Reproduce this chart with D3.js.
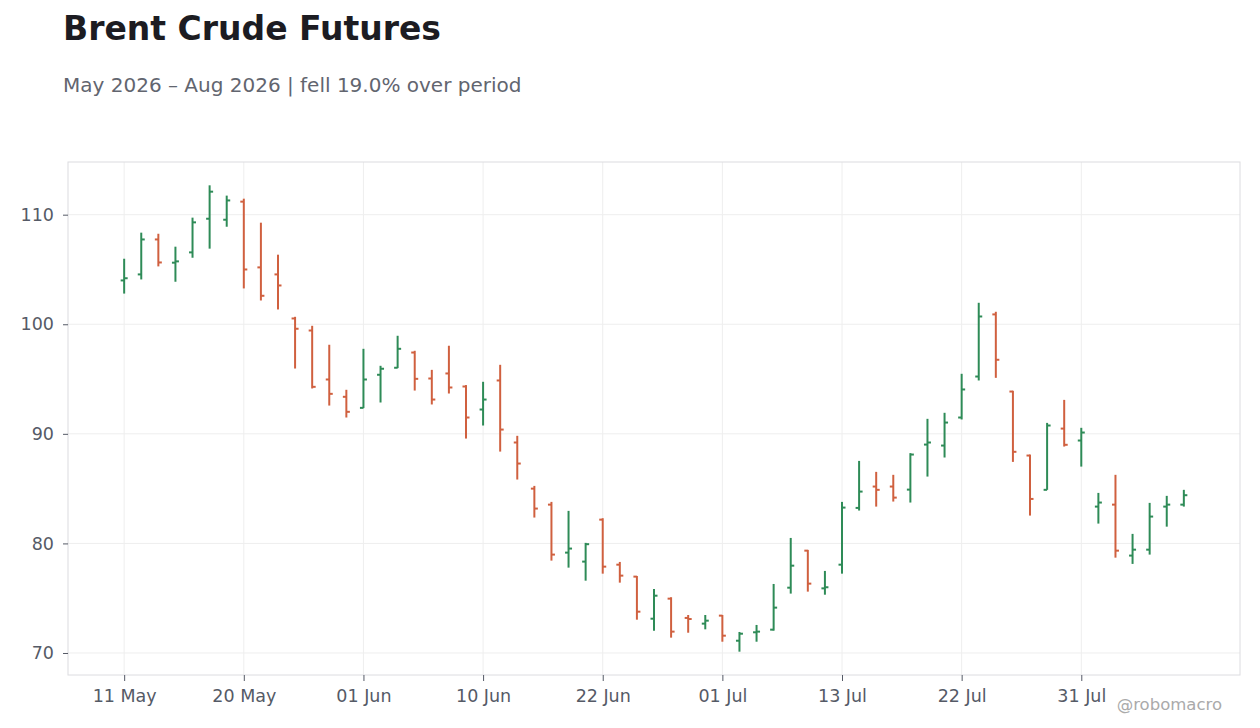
<!DOCTYPE html>
<html>
<head>
<meta charset="utf-8">
<script src="https://cdn.jsdelivr.net/npm/d3@7"></script>
<style>
  body { margin: 0; background: #fff; }
  svg { display: block; font-family: "DejaVu Sans", sans-serif; }
</style>
</head>
<body>
<svg id="chart" width="1260" height="728"></svg>
<script>
// trading days (US holidays 25 May, 19 Jun, 03 Jul skipped)
var dates = [
  "2026-05-11","2026-05-12","2026-05-13","2026-05-14","2026-05-15",
  "2026-05-18","2026-05-19","2026-05-20","2026-05-21","2026-05-22",
  "2026-05-26","2026-05-27","2026-05-28","2026-05-29",
  "2026-06-01","2026-06-02","2026-06-03","2026-06-04","2026-06-05",
  "2026-06-08","2026-06-09","2026-06-10","2026-06-11","2026-06-12",
  "2026-06-15","2026-06-16","2026-06-17","2026-06-18",
  "2026-06-22","2026-06-23","2026-06-24","2026-06-25","2026-06-26",
  "2026-06-29","2026-06-30","2026-07-01","2026-07-02",
  "2026-07-06","2026-07-07","2026-07-08","2026-07-09","2026-07-10",
  "2026-07-13","2026-07-14","2026-07-15","2026-07-16","2026-07-17",
  "2026-07-20","2026-07-21","2026-07-22","2026-07-23","2026-07-24",
  "2026-07-27","2026-07-28","2026-07-29","2026-07-30","2026-07-31",
  "2026-08-03","2026-08-04","2026-08-05","2026-08-06","2026-08-07",
  "2026-08-10"
]

var open = [
  104.0, 104.55, 107.74, 105.62, 106.56, 109.63, 109.54, 111.19, 105.19, 104.55,
  100.53, 99.43, 94.96, 93.38, 92.37, 95.39, 96.03, 97.42, 95.05, 95.51,
  94.32, 92.22, 94.87, 89.21, 85.0, 83.54, 79.16, 78.34, 82.17, 78.06,
  76.97, 73.13, 74.96, 73.2, 72.68, 73.41, 71.12, 71.89, 72.13, 75.96,
  79.34, 75.9, 78.06, 83.24, 85.19, 85.19, 84.91, 89.02, 88.93, 91.49,
  95.23, 100.9, 93.86, 88.02, 84.89, 90.48, 89.39, 83.36, 83.54, 78.89,
  79.43, 83.36, 83.54
]
var high = [
  105.98, 108.36, 108.26, 107.08, 109.73, 112.68, 111.74, 111.46, 109.27, 106.35,
  100.68, 99.86, 98.13, 94.02, 97.76, 96.21, 98.95, 97.58, 95.84, 98.04,
  94.45, 94.75, 96.3, 89.82, 85.25, 83.79, 82.97, 80.05, 82.3, 78.31,
  77.03, 75.84, 75.09, 73.47, 73.47, 73.47, 71.92, 72.56, 76.3, 80.5,
  79.41, 77.49, 83.79, 87.53, 86.53, 86.26, 88.24, 91.37, 91.92, 95.48,
  101.96, 101.14, 93.93, 88.11, 91.0, 93.1, 90.55, 84.61, 86.26, 80.87,
  83.7, 84.34, 84.89
]
var low = [
  102.8, 104.09, 105.28, 103.88, 106.07, 106.9, 108.9, 103.27, 102.17, 101.35,
  95.96, 94.14, 92.58, 91.49, 92.35, 92.86, 96.0, 93.95, 92.68, 93.68,
  89.57, 90.76, 88.38, 85.83, 82.36, 78.43, 77.79, 76.6, 77.24, 76.42,
  73.04, 72.04, 71.4, 71.85, 72.16, 71.03, 70.12, 71.03, 72.04, 75.42,
  75.6, 75.32, 77.24, 83.0, 83.36, 83.82, 83.73, 86.1, 87.84, 91.31,
  94.87, 95.11, 87.44, 82.54, 84.89, 88.84, 87.01, 81.81, 78.7, 78.13,
  78.98, 81.53, 83.36
]
var close = [
  104.2, 107.74, 105.64, 105.74, 109.3, 112.1, 111.3, 105.0, 102.6, 103.54,
  99.59, 94.29, 93.65, 92.01, 94.96, 95.94, 97.76, 95.02, 93.13, 94.23,
  91.49, 93.13, 90.39, 87.29, 83.18, 78.98, 79.53, 79.93, 77.88, 77.06,
  73.77, 75.23, 71.95, 73.1, 72.95, 71.58, 71.76, 71.95, 74.14, 77.97,
  76.33, 76.0, 83.27, 84.73, 84.89, 84.18, 88.11, 89.21, 91.03, 94.05,
  100.71, 96.76, 88.36, 84.06, 90.76, 89.0, 90.12, 83.73, 79.34, 79.43,
  82.45, 83.54, 84.4
]

var yTicks = [70, 80, 90, 100, 110]
var xTickEvery = 7

var title = "Brent Crude Futures"
var subtitle = "May 2026 \u2013 Aug 2026 | fell 19.0% over period"
var credit = "@robomacro"

var upColor = "#2e8b57"
var downColor = "#d0603f"

var W = 1260, H = 728
var margin = { left: 68, right: 20, top: 162, bottom: 53 }
var plotW = W - margin.left - margin.right
var plotH = H - margin.top - margin.bottom

var parse = d3.timeParse("%Y-%m-%d")
var fmt = d3.timeFormat("%d %b")

var bars = dates.map(function (d, i) {
  return { i: i, date: parse(d), o: open[i], h: high[i], l: low[i], c: close[i] }
})

var svg = d3.select("#chart")

// 标题
svg.append("text")
   .attr("x", 63).attr("y", 40)
   .attr("font-size", 33).attr("font-weight", "bold")
   .attr("fill", "#1c1c22")
   .text(title)

svg.append("text")
   .attr("x", 63).attr("y", 92)
   .attr("font-size", 20)
   .attr("fill", "#62656f")
   .text(subtitle)

var g = svg.append("g")
   .attr("transform", "translate(" + margin.left + "," + margin.top + ")")

// x: trading-day index, padded both ends
var pad = (bars.length - 1) * 0.053
var x = d3.scaleLinear()
   .domain([-pad, bars.length - 1 + pad])
   .range([0, plotW])

var lo = d3.min(low), hi = d3.max(high)
var yPad = (hi - lo) * 0.05
var y = d3.scaleLinear()
   .domain([lo - yPad, hi + yPad])
   .range([plotH, 0])

var tickIdx = d3.range(0, bars.length, xTickEvery)

// 网格
g.append("g").selectAll("line.gx")
   .data(tickIdx).enter().append("line")
   .attr("x1", function (d) { return x(d) }).attr("x2", function (d) { return x(d) })
   .attr("y1", 0).attr("y2", plotH)
   .attr("stroke", "#eeeeee").attr("stroke-width", 1)

g.append("g").selectAll("line.gy")
   .data(yTicks).enter().append("line")
   .attr("x1", 0).attr("x2", plotW)
   .attr("y1", function (d) { return y(d) }).attr("y2", function (d) { return y(d) })
   .attr("stroke", "#eeeeee").attr("stroke-width", 1)

// 边框
g.append("rect")
   .attr("x", 0).attr("y", 0)
   .attr("width", plotW).attr("height", plotH)
   .attr("fill", "none").attr("stroke", "#dcdce0").attr("stroke-width", 1)

// 坐标轴
var xAxis = d3.axisBottom(x)
   .tickValues(tickIdx)
   .tickSize(6)
   .tickPadding(9)
   .tickFormat(function (d) { return fmt(bars[d].date) })

var yAxis = d3.axisLeft(y)
   .tickValues(yTicks)
   .tickSize(5)
   .tickPadding(9)

var gx = g.append("g")
   .attr("transform", "translate(0," + plotH + ")")
   .call(xAxis)
var gy = g.append("g").call(yAxis)

;[gx, gy].forEach(function (a) {
  a.select(".domain").remove()
  a.selectAll(".tick line").attr("stroke", "#555a66")
  a.selectAll(".tick text")
   .attr("fill", "#555a66")
   .attr("font-size", 17.5)
   .attr("font-family", "DejaVu Sans, sans-serif")
})

// OHLC 柱
var tick = 3.5
var bg = g.append("g")
var bar = bg.selectAll("g.bar")
   .data(bars).enter().append("g")
   .attr("stroke", function (d) { return d.c >= d.o ? upColor : downColor })
   .attr("stroke-width", 2)

bar.append("line")
   .attr("x1", function (d) { return x(d.i) }).attr("x2", function (d) { return x(d.i) })
   .attr("y1", function (d) { return y(d.h) }).attr("y2", function (d) { return y(d.l) })

bar.append("line")
   .attr("x1", function (d) { return x(d.i) - tick }).attr("x2", function (d) { return x(d.i) })
   .attr("y1", function (d) { return y(d.o) }).attr("y2", function (d) { return y(d.o) })

bar.append("line")
   .attr("x1", function (d) { return x(d.i) }).attr("x2", function (d) { return x(d.i) + tick })
   .attr("y1", function (d) { return y(d.c) }).attr("y2", function (d) { return y(d.c) })

// 署名
svg.append("text")
   .attr("x", 1222).attr("y", 710)
   .attr("text-anchor", "end")
   .attr("font-size", 16.5)
   .attr("fill", "#aaaaaa")
   .text(credit)
</script>
</body>
</html>
